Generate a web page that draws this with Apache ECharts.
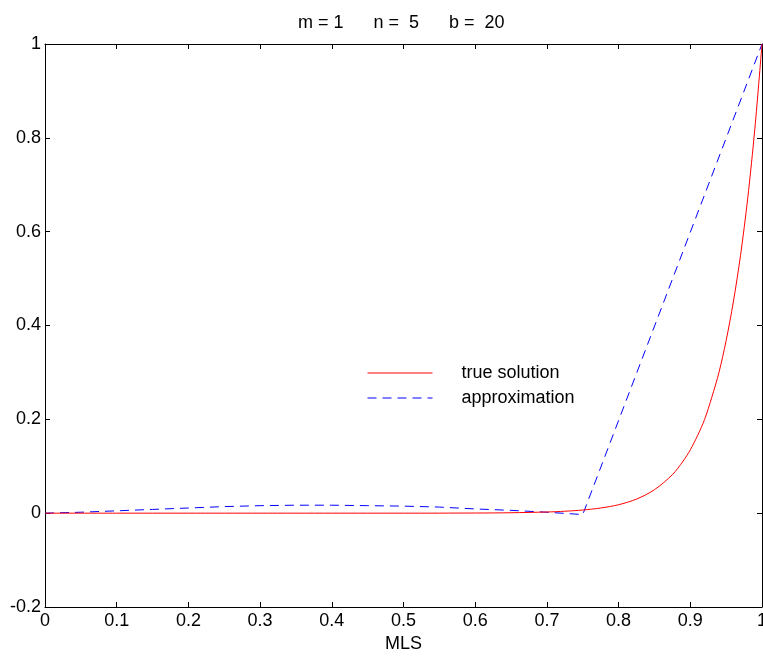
<!DOCTYPE html>
<html>
<head>
<meta charset="utf-8">
<script src="https://cdn.jsdelivr.net/npm/echarts@6/dist/echarts.min.js"></script>
<style>
html,body{margin:0;padding:0;background:#fff;}
#chart{width:763px;height:657px;}
</style>
</head>
<body>
<div id="chart"></div>
<script>
var titleText = 'm = 1      n =  5      b =  20';
var xAxisName = 'MLS';
var seriesNames = ['true solution', 'approximation'];

var trueX = [0, 0.1, 0.2, 0.3, 0.4, 0.5, 0.6, 0.65, 0.7, 0.725, 0.75, 0.775, 0.8, 0.825, 0.85, 0.875, 0.89, 0.9, 0.91, 0.92, 0.93, 0.94, 0.95, 0.96, 0.97, 0.98, 0.99, 1];
var trueY = [0, 0, 0, 0, 0, 0, 0.0003, 0.0009, 0.0025, 0.0041, 0.0067, 0.011, 0.018, 0.030, 0.050, 0.082, 0.111, 0.135, 0.165, 0.20, 0.247, 0.30, 0.368, 0.45, 0.549, 0.67, 0.819, 1];

var approxX = [0, 0.05, 0.1, 0.15, 0.2, 0.25, 0.3, 0.35, 0.4, 0.45, 0.5, 0.55, 0.6, 0.65, 0.7, 0.75, 1];
var approxY = [0, 0.002, 0.005, 0.008, 0.011, 0.014, 0.016, 0.017, 0.017, 0.016, 0.015, 0.013, 0.009, 0.006, 0.002, -0.003, 1];

function pairs(xs, ys) { return xs.map(function (x, i) { return [x, ys[i]]; }); }

var font = 'Liberation Sans, Arial, Helvetica, sans-serif';
var chart = echarts.init(document.getElementById('chart'), null, {renderer: 'canvas'});

var axisCommon = {
  axisLine: {show: true, onZero: false, lineStyle: {color: '#000', width: 1}},
  axisTick: {show: true, inside: true, length: 5, lineStyle: {color: '#000'}},
  splitLine: {show: false}
};

chart.setOption({
  animation: false,
  backgroundColor: '#fff',
  title: {
    text: titleText, left: 298, top: 14, padding: 0,
    textStyle: {fontFamily: font, fontSize: 18, fontWeight: 'normal', color: '#000'}
  },
  legend: {
    orient: 'vertical', left: 367, top: 364, itemGap: 7, padding: 0,
    itemWidth: 65, itemHeight: 14,
    itemStyle: {opacity: 0},
    lineStyle: {width: 1},
    textStyle: {fontFamily: font, fontSize: 18, color: '#000', padding: [0, 0, 0, 24]},
    data: seriesNames
  },
  grid: {left: 45, right: 1, top: 44, bottom: 50, containLabel: false, outerBoundsMode: 'none'},
  xAxis: [
    Object.assign({
      type: 'value', min: 0, max: 1, interval: 0.1,
      name: xAxisName, nameLocation: 'middle', nameGap: 25,
      nameTextStyle: {fontFamily: font, fontSize: 18, color: '#000'},
      axisLabel: {fontFamily: font, fontSize: 18, color: '#000', margin: 5, hideOverlap: false,
        formatter: function (v) { return +v.toFixed(1) + ''; }}
    }, axisCommon),
    Object.assign({
      type: 'value', min: 0, max: 1, interval: 0.1, position: 'top',
      axisLabel: {show: false}
    }, axisCommon)
  ],
  yAxis: [
    Object.assign({
      type: 'value', min: -0.2, max: 1, interval: 0.2,
      axisLabel: {fontFamily: font, fontSize: 18, color: '#000', margin: 4, hideOverlap: false,
        formatter: function (v) { return +v.toFixed(1) + ''; }}
    }, axisCommon),
    Object.assign({
      type: 'value', min: -0.2, max: 1, interval: 0.2, position: 'right',
      axisLabel: {show: false}
    }, axisCommon)
  ],
  series: [
    {
      name: seriesNames[1], type: 'line', showSymbol: false, symbol: 'none',
      data: pairs(approxX, approxY),
      lineStyle: {color: '#0000ff', width: 1, type: [9, 6]},
      itemStyle: {color: '#0000ff'}, z: 2
    },
    {
      name: seriesNames[0], type: 'line', showSymbol: false, symbol: 'none',
      data: pairs(trueX, trueY), smooth: 0.3,
      lineStyle: {color: '#ff0000', width: 1},
      itemStyle: {color: '#ff0000'}, z: 3
    }
  ]
});
</script>
</body>
</html>
